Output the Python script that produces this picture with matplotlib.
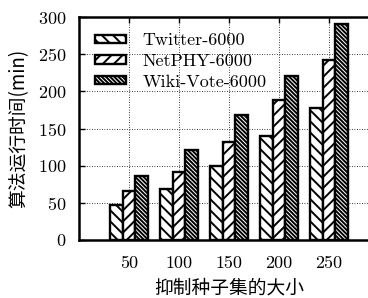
import matplotlib.pyplot as plt
import numpy as np

plt.rcParams['font.family'] = ['cmr10', 'Noto Sans CJK SC', 'DejaVu Sans']
plt.rcParams['axes.formatter.use_mathtext'] = True
plt.rcParams['hatch.linewidth'] = 1.4

sizes = ['50', '100', '150', '200', '250']
twitter = [47, 69, 99, 140, 178]
netphy = [66, 92, 132, 188, 242]
wiki = [86, 121, 168, 221, 290]
names = ['Twitter-6000', 'NetPHY-6000', 'Wiki-Vote-6000']
hatches = ['\\\\\\', '///', '\\' * 8]

fig = plt.figure(figsize=(3.68, 2.98), dpi=100)
ax = fig.add_axes([79 / 368, 58 / 298, 300 / 368, 223 / 298])

x = np.arange(1, len(sizes) + 1)
w = 0.25
for i, (vals, name, h) in enumerate(zip([twitter, netphy, wiki], names, hatches)):
    ax.bar(x + (i - 1) * w, vals, w, label=name, color='white',
           edgecolor='black', linewidth=1.7, hatch=h)

ax.set_xlim(0, 6)
ax.set_ylim(0, 300)
ax.set_xticks(x)
ax.set_xticklabels(sizes)
ax.set_yticks(np.arange(0, 301, 50))
ax.tick_params(direction='in', top=True, right=False, length=4, width=1,
               labelsize=13)
ax.tick_params(axis='y', pad=9)
ax.tick_params(axis='x', pad=11)
ax.grid(True, linestyle=(0, (1, 2)), color='black', linewidth=0.6)
ax.set_axisbelow(True)
for s in ax.spines.values():
    s.set_linewidth(1.8)
ax.spines['right'].set_visible(False)

ax.set_xlabel('抑制种子集的大小', fontsize=13.5, family=['Noto Sans CJK SC'], labelpad=5)
ax.set_ylabel('算法运行时间(min)', fontsize=13.5, family=['Noto Sans CJK SC', 'cmr10'], labelpad=6)

ax.legend(loc='upper left', frameon=False, fontsize=13,
          handlelength=1.7, handleheight=0.32, handletextpad=0.9,
          borderaxespad=0.3, labelspacing=0.3, bbox_to_anchor=(0.012, 0.985))

fig.savefig('out.png', dpi=100)
